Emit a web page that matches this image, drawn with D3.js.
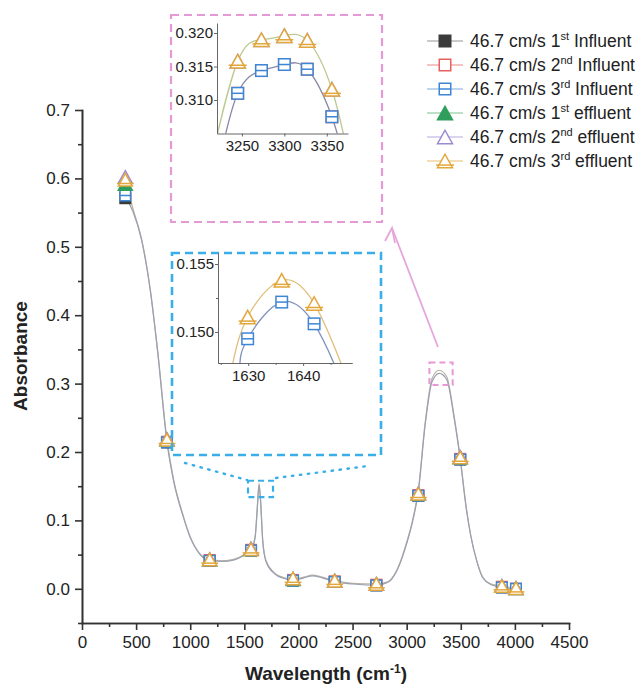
<!DOCTYPE html>
<meta charset="utf-8">
<style>
body { margin: 0; background: #fff; }
text { font-family: "Liberation Sans", Arial, sans-serif; fill: #222; }
.axis path, .axis line { stroke: #333; stroke-width: 1.6px; }
.axis text { font-size: 17px; }
.inset path, .inset line { stroke: #666; stroke-width: 1px; }
.inset text { font-size: 15px; }
.title { font-size: 19px; font-weight: bold; }
.legend text { font-size: 17.5px; }
</style>
<body>
<svg width="640" height="685"></svg>
<script src="https://d3js.org/d3.v7.min.js"></script>
<script>

// marker positions on the main plot (cm-1)
var markWl = [400, 785, 1180, 1562, 1950, 2335, 2720, 3108, 3495, 3880, 4010];

// absorbance at the markers, one array per run
var inf1 = [0.571, 0.214, 0.041, 0.056, 0.012, 0.010, 0.005, 0.136, 0.189, 0.002, 0.000];
var inf2 = [0.577, 0.215, 0.042, 0.057, 0.013, 0.011, 0.006, 0.137, 0.190, 0.003, 0.000];
var inf3 = [0.575, 0.214, 0.041, 0.056, 0.012, 0.010, 0.005, 0.136, 0.189, 0.002, 0.000];
var eff1 = [0.592, 0.218, 0.043, 0.058, 0.014, 0.012, 0.007, 0.139, 0.192, 0.004, 0.001];
var eff2 = [0.602, 0.219, 0.043, 0.059, 0.015, 0.012, 0.007, 0.140, 0.193, 0.004, 0.001];
var eff3 = [0.598, 0.218, 0.043, 0.058, 0.015, 0.012, 0.007, 0.139, 0.192, 0.004, 0.001];

// full spectrum
var specWl  = [400, 470, 550, 630, 700, 785, 850, 930, 1000, 1080, 1180, 1300, 1400, 1500, 1562, 1600, 1620, 1636, 1650, 1670, 1700, 1780, 1870, 1950, 2050, 2130, 2220, 2335, 2500, 2720, 2800, 2850, 2920, 3000, 3060, 3108, 3170, 3235, 3300, 3370, 3440, 3495, 3550, 3590, 3650, 3700, 3780, 3880, 4010];
var specInf = [0.573, 0.552, 0.510, 0.437, 0.345, 0.214, 0.155, 0.108, 0.075, 0.052, 0.041, 0.040, 0.042, 0.049, 0.056, 0.075, 0.118, 0.152, 0.128, 0.070, 0.040, 0.022, 0.015, 0.012, 0.016, 0.019, 0.016, 0.010, 0.007, 0.005, 0.008, 0.012, 0.030, 0.066, 0.102, 0.142, 0.238, 0.303, 0.315, 0.306, 0.248, 0.189, 0.118, 0.079, 0.039, 0.017, 0.006, 0.002, 0.000];
var specEff = [0.598, 0.556, 0.512, 0.439, 0.347, 0.218, 0.157, 0.110, 0.076, 0.053, 0.043, 0.041, 0.043, 0.050, 0.058, 0.077, 0.120, 0.154, 0.130, 0.071, 0.041, 0.023, 0.016, 0.014, 0.017, 0.020, 0.017, 0.012, 0.008, 0.007, 0.009, 0.013, 0.031, 0.068, 0.104, 0.145, 0.242, 0.308, 0.3195, 0.310, 0.251, 0.192, 0.120, 0.080, 0.040, 0.018, 0.007, 0.004, 0.001];

// zoom 1 : 3300 band
var z1Wl  = [3245, 3273, 3300, 3327, 3356];
var z1Inf = [0.3110, 0.3144, 0.3153, 0.3146, 0.3075];
var z1Eff = [0.3158, 0.3190, 0.3196, 0.3189, 0.3116];
var z1InfLineWl = [3222, 3245, 3273, 3300, 3327, 3356, 3372];
var z1InfLine   = [0.300, 0.3110, 0.3144, 0.3153, 0.3146, 0.3075, 0.300];
var z1EffLineWl = [3212, 3245, 3273, 3300, 3327, 3356, 3378];
var z1EffLine   = [0.300, 0.3158, 0.3190, 0.3196, 0.3189, 0.3116, 0.300];

// zoom 2 : 1635 band
var z2Wl  = [1629.9, 1636.1, 1642.0];
var z2Inf = [0.1495, 0.1522, 0.1506];
var z2Eff = [0.1511, 0.1538, 0.1521];
var z2InfLineWl = [1628.5, 1629.9, 1636.1, 1642.0, 1645.6];
var z2InfLine   = [0.1477, 0.1495, 0.1522, 0.1506, 0.1477];
var z2EffLineWl = [1627.2, 1629.9, 1636.1, 1642.0, 1646.9];
var z2EffLine   = [0.1477, 0.1511, 0.1538, 0.1521, 0.1477];

var xTicks = [0, 500, 1000, 1500, 2000, 2500, 3000, 3500, 4000, 4500];
var yTicks = [0.0, 0.1, 0.2, 0.3, 0.4, 0.5, 0.6, 0.7];

var ordinal = ["1", "2", "3", "1", "2", "3"];
var suffix  = ["st", "nd", "rd", "st", "nd", "rd"];
var kind    = ["Influent", "Influent", "Influent", "effluent", "effluent", "effluent"];
var shapes  = ["sqFill", "sq", "sqBar", "triFill", "tri", "triBar"];
var colors  = ["#3b3b3b", "#e8605a", "#3d86d6", "#2f9e5c", "#9a8ad2", "#e3a63a"];
var lineColors = ["#b8b8b8", "#f0b0ae", "#a8c6ea", "#a6d6b6", "#cfc6ea", "#efd39e"];

var allVals = [inf1, inf2, inf3, eff1, eff2, eff3];

var svg = d3.select("svg");

var x = d3.scaleLinear().domain([0, 4500]).range([82, 569]);
var y = d3.scaleLinear().domain([-0.05, 0.7]).range([623, 110]);

// open symbols get a white fill, like Origin does
function marker(g, shape, cx, cy, s, color) {
  var h = s * 0.9;
  if (shape.indexOf("sq") == 0) {
    g.append("rect")
      .attr("x", cx - s / 2 + 0.75).attr("y", cy - s / 2 + 0.75)
      .attr("width", s - 1.5).attr("height", s - 1.5)
      .attr("fill", shape == "sqFill" ? color : "#fff")
      .attr("stroke", color).attr("stroke-width", 1.5);
    if (shape == "sqBar")
      g.append("line").attr("x1", cx - s / 2 + 1).attr("x2", cx + s / 2 - 1)
        .attr("y1", cy).attr("y2", cy).attr("stroke", color).attr("stroke-width", 1.5);
  } else {
    g.append("path")
      .attr("d", "M" + cx + "," + (cy - h / 2) + "L" + (cx + s / 2) + "," + (cy + h / 2) + "L" + (cx - s / 2) + "," + (cy + h / 2) + "Z")
      .attr("fill", shape == "triFill" ? color : "#fff")
      .attr("stroke", color).attr("stroke-width", 1.5).attr("stroke-linejoin", "miter");
    if (shape == "triBar")
      g.append("line").attr("x1", cx - s * 0.6).attr("x2", cx + s * 0.6)
        .attr("y1", cy + h * 0.3).attr("y2", cy + h * 0.3).attr("stroke", color).attr("stroke-width", 1.5);
  }
}

// ---- main axes
svg.append("g").attr("class", "axis")
  .attr("transform", "translate(0,623)")
  .call(d3.axisBottom(x).tickValues(d3.range(250, 4500, 500)).tickSize(4).tickSizeOuter(0).tickFormat(""));
svg.append("g").attr("class", "axis")
  .attr("transform", "translate(0,623)")
  .call(d3.axisBottom(x).tickValues(xTicks).tickSize(7).tickSizeOuter(0).tickPadding(6).tickFormat(d3.format("d")));

svg.append("g").attr("class", "axis")
  .attr("transform", "translate(82,0)")
  .call(d3.axisLeft(y).tickValues([-0.05, 0.05, 0.15, 0.25, 0.35, 0.45, 0.55, 0.65]).tickSize(4).tickSizeOuter(0).tickFormat(""));
svg.append("g").attr("class", "axis")
  .attr("transform", "translate(82,0)")
  .call(d3.axisLeft(y).tickValues(yTicks).tickSize(7).tickSizeOuter(0).tickPadding(5).tickFormat(d3.format(".1f")));

svg.selectAll(".axis .domain").attr("stroke-linecap", "square");

svg.append("text").attr("class", "title")
  .attr("transform", "translate(27,356) rotate(-90)")
  .attr("text-anchor", "middle")
  .text("Absorbance");

var xt = svg.append("text").attr("class", "title")
  .attr("x", 326).attr("y", 680).attr("text-anchor", "middle");
xt.append("tspan").text("Wavelength (cm");
xt.append("tspan").attr("font-size", "12px").attr("dy", -7).text("-1");
xt.append("tspan").attr("dy", 7).text(")");

// ---- spectra
var line = d3.line().curve(d3.curveMonotoneX)
  .x(function(d) { return x(d[0]); })
  .y(function(d) { return y(d[1]); });

svg.append("path").datum(d3.zip(specWl, specEff))
  .attr("d", line).attr("fill", "none").attr("stroke", "#b9b3a4").attr("stroke-width", 1.2);
svg.append("path").datum(d3.zip(specWl, specInf))
  .attr("d", line).attr("fill", "none").attr("stroke", "#9aa0b0").attr("stroke-width", 1.2);

var marks = svg.append("g");
allVals.forEach(function(vals, k) {
  var s = k < 3 ? 12 : 14;
  vals.forEach(function(v, i) {
    marker(marks, shapes[k], x(markWl[i]), y(v), s, colors[k]);
  });
});

// ---- zoom boxes on the main plot
var pink = "#e59ad6", blue = "#3aaee8";

svg.append("rect")
  .attr("x", x(3210)).attr("y", y(0.331))
  .attr("width", x(3425) - x(3210)).attr("height", y(0.298) - y(0.331))
  .attr("fill", "none").attr("stroke", pink).attr("stroke-width", 2).attr("stroke-dasharray", "6,4");
svg.append("rect")
  .attr("x", x(1534)).attr("y", y(0.158))
  .attr("width", x(1765) - x(1534)).attr("height", y(0.134) - y(0.158))
  .attr("fill", "none").attr("stroke", blue).attr("stroke-width", 2.2).attr("stroke-dasharray", "6,4");

// big frames
svg.append("rect").attr("x", 171).attr("y", 15).attr("width", 211).attr("height", 207)
  .attr("fill", "none").attr("stroke", pink).attr("stroke-width", 2.2).attr("stroke-dasharray", "8,5");
svg.append("rect").attr("x", 172).attr("y", 253).attr("width", 209).attr("height", 202)
  .attr("fill", "none").attr("stroke", blue).attr("stroke-width", 2.6).attr("stroke-dasharray", "8,5");

// dotted connectors
svg.append("line").attr("x1", 185).attr("y1", 463).attr("x2", 247).attr("y2", 480)
  .attr("stroke", blue).attr("stroke-width", 2.4).attr("stroke-dasharray", "1.5,6.5").attr("stroke-linecap", "round");
svg.append("line").attr("x1", 276).attr("y1", 478).attr("x2", 368).attr("y2", 466)
  .attr("stroke", blue).attr("stroke-width", 2.4).attr("stroke-dasharray", "1.5,6.5").attr("stroke-linecap", "round");

// arrow
svg.append("line").attr("x1", 438).attr("y1", 347).attr("x2", 392).attr("y2", 228)
  .attr("stroke", "#e6a6dc").attr("stroke-width", 1.8);
svg.append("path").attr("d", "M385,241L392,228L395,243")
  .attr("fill", "none").attr("stroke", "#e6a6dc").attr("stroke-width", 1.8);

// ---- inset helper
function inset(id, xDom, xRange, yDom, yRange, xt, xMinor, yt, yMinor, yFmt, pts, lines) {
  var ix = d3.scaleLinear().domain(xDom).range(xRange);
  var iy = d3.scaleLinear().domain(yDom).range(yRange);
  var g = svg.append("g");

  g.append("clipPath").attr("id", id)
    .append("rect").attr("x", xRange[0]).attr("y", yRange[1])
    .attr("width", xRange[1] - xRange[0]).attr("height", yRange[0] - yRange[1]);

  var il = d3.line().curve(d3.curveNatural)
    .x(function(d) { return ix(d[0]); })
    .y(function(d) { return iy(d[1]); });

  lines.forEach(function(l) {
    g.append("path").datum(l.data).attr("clip-path", "url(#" + id + ")")
      .attr("d", il).attr("fill", "none").attr("stroke", l.color).attr("stroke-width", 1.3);
  });

  if (xMinor.length)
    g.append("g").attr("class", "inset").attr("transform", "translate(0," + yRange[0] + ")")
      .call(d3.axisBottom(ix).tickValues(xMinor).tickSize(2).tickSizeOuter(0).tickFormat(""));
  g.append("g").attr("class", "inset").attr("transform", "translate(0," + yRange[0] + ")")
    .call(d3.axisBottom(ix).tickValues(xt).tickSize(3).tickSizeOuter(0).tickPadding(4).tickFormat(d3.format("d")));
  if (yMinor.length)
    g.append("g").attr("class", "inset").attr("transform", "translate(" + xRange[0] + ",0)")
      .call(d3.axisLeft(iy).tickValues(yMinor).tickSize(2).tickSizeOuter(0).tickFormat(""));
  g.append("g").attr("class", "inset").attr("transform", "translate(" + xRange[0] + ",0)")
    .call(d3.axisLeft(iy).tickValues(yt).tickSize(3).tickSizeOuter(0).tickPadding(1).tickFormat(d3.format(yFmt)));

  pts.forEach(function(p) {
    p.vals.forEach(function(v, i) {
      marker(g, p.shape, ix(p.wl[i]), iy(v), p.size, p.color);
    });
  });
}

inset("clip1", [3220.6, 3375], [217, 348], [0.305, 0.3215], [133.5, 23],
  [3250, 3300, 3350], [], [0.310, 0.315, 0.320], [], ".3f",
  [
    { wl: z1Wl, vals: z1Inf, shape: "sq", size: 13, color: colors[1] },
    { wl: z1Wl, vals: z1Inf, shape: "sqBar", size: 13, color: colors[2] },
    { wl: z1Wl, vals: z1Eff, shape: "tri", size: 15, color: colors[4] },
    { wl: z1Wl, vals: z1Eff, shape: "triBar", size: 15, color: colors[5] }
  ],
  [
    { data: d3.zip(z1EffLineWl, z1EffLine), color: "#bcc98f" },
    { data: d3.zip(z1InfLineWl, z1InfLine), color: "#8788a8" }
  ]);

inset("clip2", [1624.5, 1648.9], [218, 352], [0.14772, 0.15581], [363, 253],
  [1630, 1640], [1625, 1635, 1645], [0.150, 0.155], [0.1525], ".3f",
  [
    { wl: z2Wl, vals: z2Inf, shape: "sqBar", size: 13, color: colors[2] },
    { wl: z2Wl, vals: z2Eff, shape: "triBar", size: 15, color: colors[5] }
  ],
  [
    { data: d3.zip(z2EffLineWl, z2EffLine), color: "#e2bf7e" },
    { data: d3.zip(z2InfLineWl, z2InfLine), color: "#7f93bd" }
  ]);

// ---- legend
var legend = svg.append("g").attr("class", "legend");
ordinal.forEach(function(o, k) {
  var ry = 41 + k * 24;
  legend.append("line").attr("x1", 427).attr("x2", 463).attr("y1", ry).attr("y2", ry)
    .attr("stroke", lineColors[k]).attr("stroke-width", 1.3);
  marker(legend, shapes[k], 445, ry, k < 3 ? 13 : 15, colors[k]);
  var t = legend.append("text").attr("x", 470).attr("y", ry + 6);
  t.append("tspan").text("46.7 cm/s " + o);
  t.append("tspan").attr("font-size", "11px").attr("dy", -7).text(suffix[k]);
  t.append("tspan").attr("dy", 7).text(" " + kind[k]);
});

</script>
</body>
